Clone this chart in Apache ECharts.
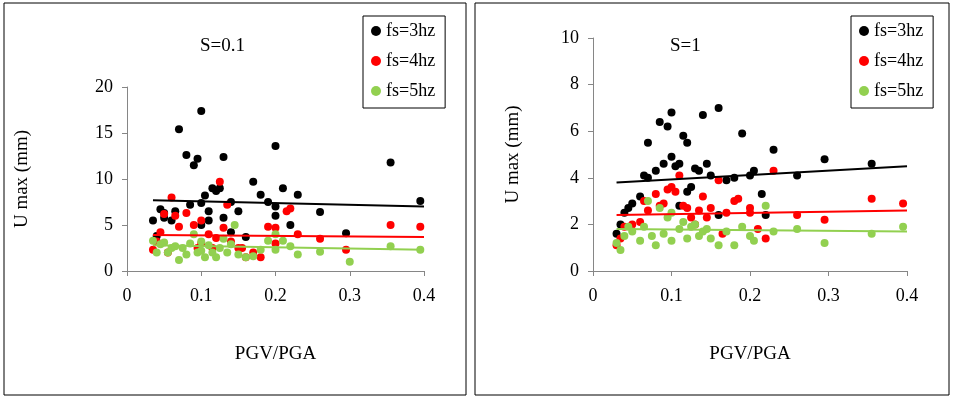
<!DOCTYPE html><html><head><meta charset="utf-8"><script src="https://cdn.jsdelivr.net/npm/echarts@6/dist/echarts.min.js"></script>
<style>html,body{margin:0;padding:0;background:#fff}#c{width:953px;height:405px}</style></head><body><div id="c"></div><script>
const seriesNames=['fs=3hz','fs=4hz','fs=5hz'];
const colors=['#000000','#ff0000','#92d050'];
const L3=[[0.035,5.5],[0.04,3.8],[0.045,6.7],[0.05,6.3],[0.05,5.8],[0.06,5.5],[0.065,6.5],[0.07,15.4],[0.08,12.6],[0.085,7.2],[0.09,11.5],[0.095,12.2],[0.1,17.4],[0.1,7.4],[0.1,5],[0.105,8.2],[0.11,6.5],[0.11,5.5],[0.115,9],[0.12,8.7],[0.125,9],[0.13,12.4],[0.13,5.8],[0.14,7.5],[0.14,4.2],[0.15,6.5],[0.16,3.7],[0.17,9.7],[0.18,8.3],[0.19,7.5],[0.2,13.6],[0.2,7],[0.2,6],[0.21,9],[0.22,5],[0.23,8.3],[0.26,6.4],[0.295,4.1],[0.355,11.8],[0.395,7.6]];
const L4=[[0.035,2.3],[0.04,3.2],[0.045,4.2],[0.05,6.2],[0.055,2],[0.06,8],[0.065,6],[0.07,4.8],[0.08,6.3],[0.09,5],[0.095,2.5],[0.1,5.5],[0.1,3],[0.11,4],[0.115,2.5],[0.12,3.6],[0.125,9.7],[0.13,4.7],[0.135,7.2],[0.14,3.2],[0.15,2.5],[0.155,2.5],[0.16,1.5],[0.17,2],[0.18,1.5],[0.19,4.8],[0.2,4.7],[0.2,3],[0.215,6.5],[0.22,6.8],[0.23,4],[0.26,3.5],[0.295,2.3],[0.355,5],[0.395,4.8]];
const L5=[[0.035,3.3],[0.04,2],[0.045,2.9],[0.05,3.1],[0.055,2],[0.06,2.5],[0.065,2.7],[0.07,1.2],[0.075,2.5],[0.08,1.8],[0.085,3],[0.09,4],[0.095,2],[0.1,2.2],[0.1,3.2],[0.105,1.5],[0.11,2.8],[0.115,2],[0.12,1.5],[0.125,2.5],[0.13,3.5],[0.135,2],[0.14,2.9],[0.145,5],[0.15,1.8],[0.16,1.5],[0.17,1.6],[0.18,2.3],[0.19,3.3],[0.2,2.3],[0.2,4],[0.21,3.3],[0.22,2.7],[0.23,1.8],[0.26,2.1],[0.3,1.0],[0.355,2.7],[0.395,2.3]];
const R3=[[0.03,1.6],[0.035,2],[0.04,2.5],[0.045,2.7],[0.05,2.9],[0.06,3.2],[0.065,4.1],[0.07,5.5],[0.07,4],[0.08,4.3],[0.085,6.4],[0.09,4.6],[0.095,6.2],[0.1,6.8],[0.1,4.9],[0.105,4.5],[0.11,4.6],[0.115,5.8],[0.12,5.5],[0.12,3.4],[0.125,3.6],[0.13,4.4],[0.135,4.3],[0.14,6.7],[0.145,4.6],[0.15,4.1],[0.16,7],[0.17,3.9],[0.18,4],[0.19,5.9],[0.2,4.1],[0.205,4.3],[0.215,3.3],[0.22,2.4],[0.23,5.2],[0.26,4.1],[0.295,4.8],[0.355,4.6],[0.16,2.4],[0.11,2.8]];
const R4=[[0.03,1.1],[0.035,1.4],[0.04,1.9],[0.05,2.0],[0.06,2.1],[0.065,3.0],[0.07,2.6],[0.08,3.3],[0.085,2.8],[0.09,2.9],[0.095,3.5],[0.1,3.6],[0.105,3.4],[0.11,4.1],[0.115,2.8],[0.12,2.7],[0.125,2.3],[0.13,2.0],[0.135,2.6],[0.14,3.2],[0.145,2.3],[0.15,2.7],[0.16,3.9],[0.165,1.6],[0.17,2.5],[0.18,3.0],[0.185,3.1],[0.2,2.7],[0.2,2.5],[0.21,1.8],[0.22,1.4],[0.23,4.3],[0.26,2.4],[0.295,2.2],[0.355,3.1],[0.395,2.9]];
const R5=[[0.03,1.2],[0.035,0.9],[0.04,1.5],[0.045,1.9],[0.05,1.7],[0.06,1.3],[0.065,1.9],[0.07,3.0],[0.075,1.5],[0.08,1.1],[0.085,2.7],[0.09,1.6],[0.095,2.3],[0.1,1.3],[0.1,2.5],[0.11,1.8],[0.115,2.1],[0.12,1.4],[0.125,1.9],[0.13,2.0],[0.135,1.5],[0.14,1.7],[0.145,1.8],[0.15,1.4],[0.16,1.1],[0.17,1.7],[0.18,1.1],[0.19,1.9],[0.2,1.5],[0.205,1.3],[0.22,2.8],[0.23,1.7],[0.26,1.8],[0.295,1.2],[0.355,1.6],[0.395,1.9]];
const lineL=[[[0.035,7.7],[0.4,7.0]],[[0.035,3.9],[0.4,3.7]],[[0.035,2.8],[0.4,2.3]]];
const lineR=[[[0.03,3.8],[0.4,4.5]],[[0.03,2.4],[0.4,2.6]],[[0.03,1.8],[0.4,1.7]]];
const F='Liberation Serif';
const ch=echarts.init(document.getElementById('c'));
function ax(i){return {gridIndex:i,type:'value',min:0,max:0.4,interval:0.1,splitLine:{show:false},axisLine:{lineStyle:{color:'#868686'}},axisTick:{show:true,length:5,lineStyle:{color:'#868686'}},axisLabel:{color:'#000',fontFamily:F,fontSize:18,margin:16},name:'PGV/PGA',nameLocation:'middle',nameGap:74,nameTextStyle:{fontFamily:F,fontSize:19,color:'#000'}};}
function ay(i,max,iv,gap){return {gridIndex:i,type:'value',min:0,max:max,interval:iv,splitLine:{show:false},axisLine:{show:true,lineStyle:{color:'#868686'}},axisTick:{show:true,length:5,lineStyle:{color:'#868686'}},axisLabel:{color:'#000',fontFamily:F,fontSize:18,margin:14},name:'U max (mm)',nameLocation:'middle',nameGap:gap,nameTextStyle:{fontFamily:F,fontSize:19,color:'#000'}};}
const series=[];
[[L3,L4,L5,lineL,0],[R3,R4,R5,lineR,1]].forEach(([a,b,c,ln,g])=>{
 [a,b,c].forEach((d,k)=>series.push({type:'scatter',name:seriesNames[k],xAxisIndex:g,yAxisIndex:g,data:d,symbolSize:8,itemStyle:{color:colors[k],opacity:1}}));
 ln.forEach((d,k)=>series.push({type:'line',xAxisIndex:g,yAxisIndex:g,data:d,symbol:'none',lineStyle:{color:colors[k],width:2},z:3}));
});
function leg(left){return {left:left,top:16,orient:'vertical',itemWidth:10,itemHeight:10,itemGap:12,padding:[6,10,8,8],borderColor:'#000',borderWidth:1,data:seriesNames.map((n,k)=>({name:n,icon:'circle',itemStyle:{color:colors[k]}})),textStyle:{fontFamily:F,fontSize:18,color:'#000'}};}
ch.setOption({animation:false,
 graphic:[{type:'rect',shape:{x:4,y:3,width:462,height:392},style:{fill:'none',stroke:'#000',lineWidth:1}},{type:'rect',shape:{x:475,y:3,width:474,height:392},style:{fill:'none',stroke:'#000',lineWidth:1}}],
 title:[{text:'S=0.1',left:195,top:32,textStyle:{fontFamily:F,fontSize:19,fontWeight:'normal',color:'#000'}},{text:'S=1',left:665,top:32,textStyle:{fontFamily:F,fontSize:19,fontWeight:'normal',color:'#000'}}],
 legend:[leg(363),leg(851)],
 grid:[{left:127,top:87,width:297,height:184},{left:593,top:38,width:314,height:233}],
 xAxis:[ax(0),ax(1)],yAxis:[ay(0,20,5,95),ay(1,10,2,70)],series:series});
</script></body></html>
